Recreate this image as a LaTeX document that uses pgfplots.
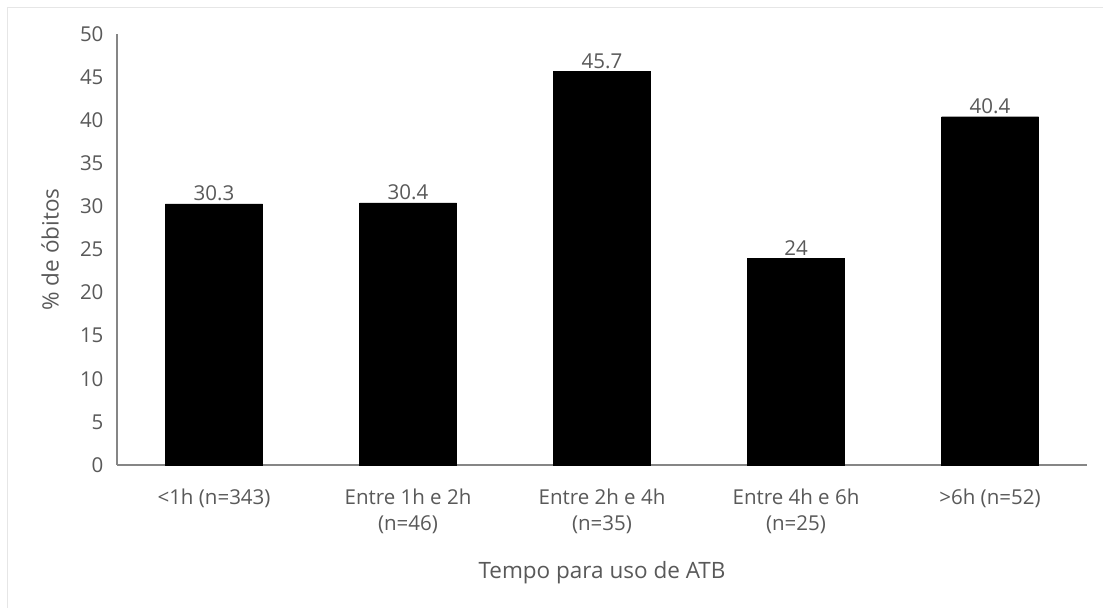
\documentclass[border=0pt]{standalone}
\usepackage{pgfplots}
\pgfplotsset{compat=1.18}
\usepackage{fontspec}
\setmainfont{Open Sans}
\definecolor{txt}{RGB}{89,89,89}
\definecolor{axc}{RGB}{134,134,134}
\definecolor{brd}{RGB}{230,230,230}
\begin{document}
\begin{tikzpicture}[x=1pt,y=1pt]
\useasboundingbox (0,0) rectangle (1103,608);
\fill[white] (0,0) rectangle (1103,608);
\draw[brd, line width=1.2pt] (7.5,0) -- (7.5,600.5) -- (1103,600.5);
\begin{axis}[
  at={(117pt,143pt)}, anchor=south west,
  scale only axis, width=970pt, height=431pt,
  xmin=-0.5, xmax=4.5, ymin=0, ymax=50,
  ytick={0,5,...,50},
  xtick=data,
  xticklabels={{<1h (n=343)},{Entre 1h e 2h\\(n=46)},{Entre 2h e 4h\\(n=35)},{Entre 4h e 6h\\(n=25)},{>6h (n=52)}},
  xticklabel style={align=center, font=\fontsize{20.5}{26}\selectfont, text=txt, anchor=north, inner sep=0pt, yshift=-24pt},
  yticklabel style={font=\fontsize{20.5}{24}\selectfont, text=txt, xshift=-10pt},
  axis x line*=bottom, axis y line*=left,
  axis line style={axc, line width=1.3pt, -},
  major tick length=0pt,
  xlabel={Tempo para uso de ATB},
  ylabel={\% de óbitos},
  xlabel style={font=\fontsize{22.5}{26}\selectfont, text=txt, at={(axis description cs:0.5,0)}, anchor=base, yshift=-113pt},
  ylabel style={font=\fontsize{22.5}{26}\selectfont, text=txt, at={(axis description cs:0,0.5)}, anchor=center, yshift=67pt},
  ybar, bar width=97pt,
  nodes near coords,
  every node near coord/.append style={font=\fontsize{20.5}{24}\selectfont, text=txt, anchor=base, yshift=3pt},
  /pgf/number format/assume math mode=true,
  /pgf/number format/fixed,
  /pgf/number format/precision=1,
  clip=false,
]
\addplot[fill=black, draw=black] coordinates {(0,30.3) (1,30.4) (2,45.7) (3,24) (4,40.4)};
\end{axis}
\end{tikzpicture}
\end{document}
